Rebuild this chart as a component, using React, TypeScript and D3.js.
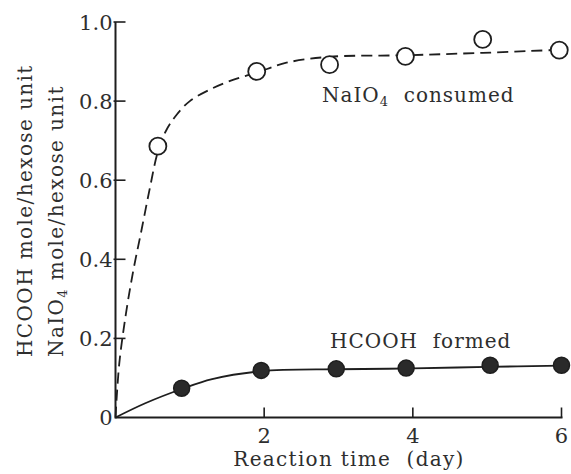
import React from "react";
import * as d3 from "d3";

const W = 571;
const H = 474;

// axis ticks
const xTicks = [2, 4, 6];
const yTicks = [0, 0.2, 0.4, 0.6, 0.8, 1.0];
const yTickLabels = ["0", "0.2", "0.4", "0.6", "0.8", "1.0"];

// NaIO4 consumed (open circles)
const naio4Days = [0.57, 1.9, 2.88, 3.9, 4.94, 5.97];
const naio4Vals = [0.686, 0.875, 0.892, 0.913, 0.956, 0.929];

// HCOOH formed (filled circles)
const hcoohDays = [0.89, 1.96, 2.97, 3.91, 5.04, 6.0];
const hcoohVals = [0.074, 0.119, 0.123, 0.125, 0.132, 0.132];

// fitted curves
const naio4CurveDays = [0, 0.05, 0.14, 0.24, 0.35, 0.46, 0.57, 0.68, 0.82, 1.0, 1.3, 1.6, 1.9, 2.3, 2.88, 3.9, 4.94, 6.0];
const naio4CurveVals = [0, 0.135, 0.262, 0.372, 0.474, 0.578, 0.672, 0.725, 0.765, 0.8, 0.832, 0.855, 0.872, 0.897, 0.912, 0.916, 0.922, 0.93];

const hcoohCurveDays = [0, 0.4, 0.89, 1.3, 1.96, 3, 4, 5, 6];
const hcoohCurveVals = [0, 0.036, 0.072, 0.097, 0.117, 0.122, 0.124, 0.128, 0.131];

const x = d3.scaleLinear().domain([0, 6]).range([115.5, 561.5]);
const y = d3.scaleLinear().domain([0, 1]).range([417.5, 22]);

const INK = "#1e1e1e";
const TEXT = "#2e2e2e";
const FONT = "'DejaVu Serif', serif";

export default function App() {
  const line = d3
    .line<[number, number]>()
    .x((d) => x(d[0]))
    .y((d) => y(d[1]))
    .curve(d3.curveCatmullRom.alpha(0.5));

  const naPath = line(naio4CurveDays.map((d, i) => [d, naio4CurveVals[i]] as [number, number])) || "";
  const hcPath = line(hcoohCurveDays.map((d, i) => [d, hcoohCurveVals[i]] as [number, number])) || "";

  const x0 = x(0);
  const y0 = y(0);

  return (
    <svg
      width={W}
      height={H}
      viewBox={`0 0 ${W} ${H}`}
      style={{ position: "absolute", left: 0, top: 0, background: "#fff" }}
    >
      <rect x={0} y={0} width={W} height={H} fill="#fff" />
      {/* axes */}
      <line x1={x0} y1={y0} x2={x(6) + 1} y2={y0} stroke={INK} strokeWidth={2} />
      <line x1={x0} y1={y0 + 1} x2={x0} y2={y(1)} stroke={INK} strokeWidth={2} />
      {/* y ticks */}
      {yTicks.map((t, i) =>
        t === 0 ? null : (
          <line key={"yt" + i} x1={x0 - 2} x2={x0 + 10} y1={y(t)} y2={y(t)} stroke={INK} strokeWidth={1.6} />
        )
      )}
      {yTicks.map((t, i) => (
        <text
          key={"yl" + i}
          x={x0 - 3}
          y={y(t) + 7.5}
          textAnchor="end"
          fontFamily={FONT}
          fontSize={21}
          fill={TEXT}
        >
          {yTickLabels[i]}
        </text>
      ))}
      {/* x ticks */}
      {xTicks.map((t) => (
        <line key={"xt" + t} x1={x(t)} x2={x(t)} y1={y0} y2={y0 - 10} stroke={INK} strokeWidth={1.6} />
      ))}
      {xTicks.map((t) => (
        <text
          key={"xl" + t}
          x={x(t)}
          y={y0 + 25}
          textAnchor="middle"
          fontFamily={FONT}
          fontSize={21}
          fill={TEXT}
        >
          {String(t)}
        </text>
      ))}
      {/* x axis title */}
      <text x={349} y={466} textAnchor="middle" fontFamily={FONT} fontSize={20} letterSpacing={1.3} fill={TEXT}>
        Reaction time{"\u00a0\u00a0"}(day)
      </text>
      {/* y axis titles */}
      <text
        transform="translate(32,357) rotate(-90)"
        fontFamily={FONT}
        fontSize={20}
        letterSpacing={1.4}
        fill={TEXT}
      >
        HCOOH mole/hexose unit
      </text>
      <text
        transform="translate(63,357) rotate(-90)"
        fontFamily={FONT}
        fontSize={20}
        letterSpacing={1.4}
        fill={TEXT}
      >
        NaIO<tspan fontSize={13} dy={4}>4</tspan>
        <tspan dy={-4}>{"\u00a0"}mole/hexose unit</tspan>
      </text>
      {/* curves */}
      <path d={naPath} fill="none" stroke={INK} strokeWidth={1.8} strokeDasharray="11 6" />
      <path d={hcPath} fill="none" stroke={INK} strokeWidth={1.8} />
      {/* markers */}
      {naio4Days.map((d, i) => (
        <circle key={"na" + i} cx={x(d)} cy={y(naio4Vals[i])} r={8.5} fill="#fff" stroke={INK} strokeWidth={1.8} />
      ))}
      {hcoohDays.map((d, i) => (
        <circle key={"hc" + i} cx={x(d)} cy={y(hcoohVals[i])} r={8} fill="#2a2a2a" stroke={INK} strokeWidth={1.5} />
      ))}
      {/* series labels */}
      <text x={322} y={102} fontFamily={FONT} fontSize={20} letterSpacing={1} fill={TEXT}>
        NaIO<tspan fontSize={13} dy={4}>4</tspan>
        <tspan dy={-4}>{"\u00a0\u00a0"}consumed</tspan>
      </text>
      <text x={330} y={348} fontFamily={FONT} fontSize={20} letterSpacing={1} fill={TEXT}>
        HCOOH{"\u00a0\u00a0"}formed
      </text>
    </svg>
  );
}
